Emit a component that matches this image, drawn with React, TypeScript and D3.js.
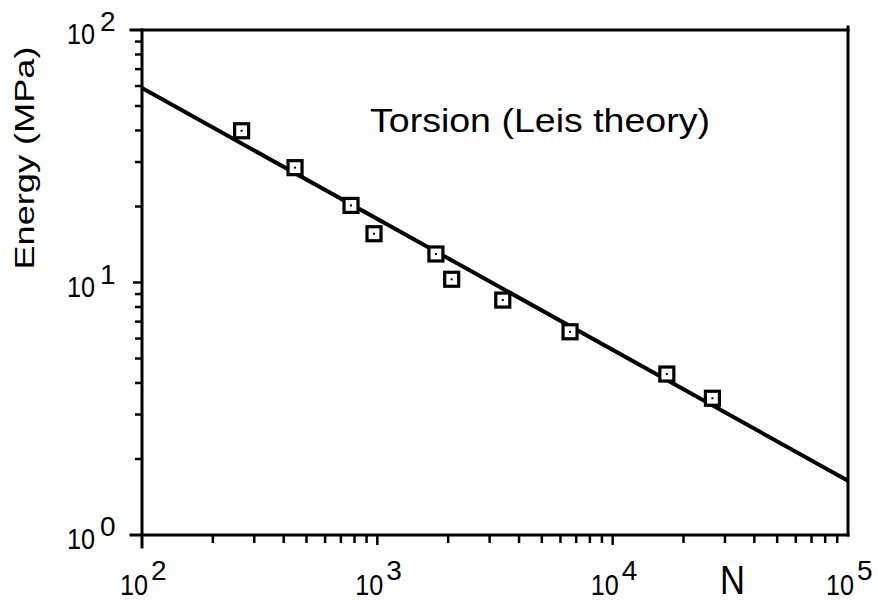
import React from "react";
import {scaleLog, line} from "d3";

// measured points (cycles N, energy in MPa)
const cycles = [265, 447, 773, 968, 1774, 2070, 3412, 6590, 16990, 26540];
const energy = [39.9, 28.5, 20.2, 15.6, 12.97, 10.3, 8.52, 6.38, 4.34, 3.48];

// fitted line end points
const fitN = [100, 100000];
const fitE = [58.9, 1.64];

const xDecades = [2, 3, 4, 5];
const yDecades = [0, 1, 2];

const title = "Torsion (Leis theory)";
const yTitle = "Energy (MPa)";
const xTitle = "N";

const W = 878, H = 603;
const m = {left: 142, right: 848, top: 30, bottom: 535};
const font = "'Liberation Sans', Arial, sans-serif";

function App() {
    const x = scaleLog().domain([1e2, 1e5]).range([m.left, m.right]);
    const y = scaleLog().domain([1, 100]).range([m.bottom, m.top]);

    const fit = line<number>()
        .x((d, i) => x(fitN[i]))
        .y(d => y(d));

    // minor ticks 2..9 in every decade
    const xMinor: number[] = [];
    for (let p = 2; p < 5; p++) for (let k = 2; k <= 9; k++) xMinor.push(k * Math.pow(10, p));
    const yMinor: number[] = [];
    for (let p = 0; p < 2; p++) for (let k = 2; k <= 9; k++) yMinor.push(k * Math.pow(10, p));

    return (
        <svg width={W} height={H} style={{position: "absolute", left: 0, top: 0, background: "#fff"}}>
            <g stroke="#000" strokeWidth={3} fill="none" strokeLinecap="square">
                <line x1={m.left} x2={m.left} y1={m.top} y2={m.bottom + 12}/>
                <line x1={m.left - 11} x2={m.right} y1={m.bottom} y2={m.bottom}/>
                <line x1={m.left - 11} x2={m.right} y1={m.top} y2={m.top}/>
                <line x1={m.right} x2={m.right} y1={m.top - 3} y2={m.bottom}/>
            </g>
            <g stroke="#000" strokeWidth={2.5}>
                {xMinor.map(v => (
                    <line key={"xm" + v} x1={x(v)} x2={x(v)} y1={m.bottom} y2={m.bottom + 8}/>
                ))}
                {xDecades.slice(1, -1).map(p => (
                    <line key={"xM" + p} x1={x(Math.pow(10, p))} x2={x(Math.pow(10, p))} y1={m.bottom} y2={m.bottom + 10}/>
                ))}
                {yMinor.map(v => (
                    <line key={"ym" + v} x1={m.left - 7} x2={m.left} y1={y(v)} y2={y(v)}/>
                ))}
                <line x1={m.left - 9} x2={m.left} y1={y(10)} y2={y(10)}/>
            </g>

            <path d={fit(fitE) || ""} stroke="#000" strokeWidth={4} fill="none"/>

            <g>
                {cycles.map((n, i) => (
                    <g key={i} transform={`translate(${x(n)},${y(energy[i])})`}>
                        <rect x={-7} y={-7} width={14} height={14} fill="#fff" stroke="#000" strokeWidth={3.2}/>
                        <rect x={-1} y={-1} width={2} height={2} fill="#000"/>
                    </g>
                ))}
            </g>

            <g fontFamily={font} fill="#000">
                {xDecades.map(p => (
                    <g key={"xl" + p}>
                        <text x={x(Math.pow(10, p)) - 22} y={595} fontSize={30} textLength={28} lengthAdjust="spacingAndGlyphs">10</text>
                        <text x={x(Math.pow(10, p)) + 9} y={580} fontSize={28}>{p}</text>
                    </g>
                ))}
                {yDecades.map(p => (
                    <g key={"yl" + p}>
                        <text x={67} y={y(Math.pow(10, p)) + 14} fontSize={30} textLength={28} lengthAdjust="spacingAndGlyphs">10</text>
                        <text x={100} y={y(Math.pow(10, p)) + 1} fontSize={28}>{p}</text>
                    </g>
                ))}
                <text x={370} y={132} fontSize={34} textLength={340} lengthAdjust="spacingAndGlyphs">{title}</text>
                <text transform="translate(34,158) rotate(-90)" fontSize={27} textAnchor="middle" textLength={223} lengthAdjust="spacingAndGlyphs">{yTitle}</text>
                <text x={720} y={594} fontSize={40} textLength={25} lengthAdjust="spacingAndGlyphs">{xTitle}</text>
            </g>
        </svg>
    );
}

export default App;
